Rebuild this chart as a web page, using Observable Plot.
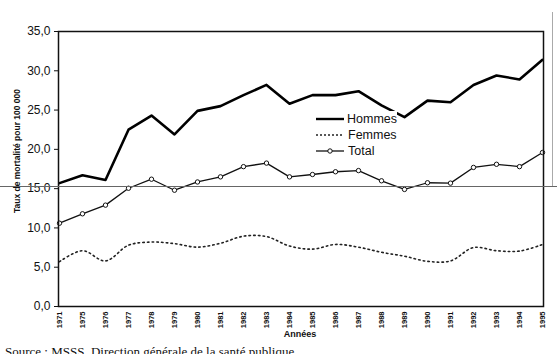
<!DOCTYPE html>
<html>
<head>
<meta charset="utf-8">
<script src="https://cdn.jsdelivr.net/npm/d3@7"></script>
<script src="https://cdn.jsdelivr.net/npm/@observablehq/plot@0.6"></script>
<style>
  html, body { margin: 0; padding: 0; background: white; }
  #wrap { position: relative; width: 557px; height: 354px; overflow: hidden; background: white; }
  #wrap svg { display: block; }
  g[aria-label="x-axis tick label"] text { font-weight: bold; }
  #legend { position: absolute; left: 314px; top: 111px; width: 83px; height: 48px; background: white;
    font-family: Arial, "Liberation Sans", sans-serif; font-size: 12.5px; color: #111; }
  #legend .row { height: 16px; display: flex; align-items: center; }
  #legend svg { margin-right: 2px; }
  .title { position: absolute; font-family: Arial, "Liberation Sans", sans-serif; font-weight: bold;
    color: #111; white-space: nowrap; line-height: 1; }
  #ytitle { left: 17px; top: 151px; font-size: 8.5px; transform: translate(-50%, -50%) rotate(-90deg); }
  #xtitle { left: 300px; top: 334px; font-size: 9px; transform: translate(-50%, -50%); }
  #source { position: absolute; left: 5px; top: 345px; font-family: "Liberation Serif", "Times New Roman", serif;
    font-size: 13px; line-height: 14px; color: #111; white-space: nowrap; }
  .hline { position: absolute; left: 0; top: 186px; width: 557px; height: 1px; background: #666; }
  .vline { position: absolute; left: 552px; top: 12px; width: 1px; height: 174px; background: #aaa; }
</style>
</head>
<body>
<div id="wrap"></div>
<script>
const years = ["1971","1975","1976","1977","1978","1979","1980","1981","1982","1983","1984",
               "1985","1986","1987","1988","1989","1990","1991","1992","1993","1994","1995"];
const hommes = [15.7,16.7,16.1,22.5,24.3,21.9,24.9,25.5,26.9,28.2,25.8,
                26.9,26.9,27.4,25.6,24.1,26.2,26.0,28.2,29.4,28.9,31.4];
const femmes = [5.7,7.1,5.8,7.8,8.2,8.0,7.55,8.05,8.95,8.9,7.7,
                7.3,7.9,7.55,6.9,6.4,5.75,5.8,7.5,7.1,7.05,7.9];
const total  = [10.6,11.8,12.9,15.05,16.2,14.8,15.85,16.5,17.8,18.25,16.5,
                16.8,17.15,17.3,16.0,14.9,15.75,15.7,17.7,18.1,17.8,19.6];
const yTicks = [0,5,10,15,20,25,30,35];
const series = ["Hommes","Femmes","Total"];
const yTitle = "Taux de mortalité pour 100 000";
const xTitle = "Années";
const source = "Source : MSSS, Direction générale de la santé publique";

const rows = (vals) => years.map((y, i) => ({year: y, v: vals[i]}));
const hData = rows(hommes), fData = rows(femmes), tData = rows(total);
const fmt = d => d.toFixed(1).replace(".", ",");

const chart = Plot.plot({
  width: 557,
  height: 342,
  marginTop: 31,
  marginLeft: 58,
  marginRight: 14,
  marginBottom: 36,
  style: {fontFamily: "Arial, 'Liberation Sans', sans-serif", background: "white", color: "#111"},
  x: {type: "point", domain: years, padding: 0},
  y: {domain: [0, 35]},
  marks: [
    Plot.axisY({ticks: yTicks, tickFormat: fmt, tickSize: 4, tickPadding: 4, fontSize: 12, label: null}),
    Plot.axisX({tickRotate: -90, tickSize: 0, tickPadding: 5, fontSize: 7.5, label: null}),
    Plot.line(fData, {x: "year", y: "v", curve: "catmull-rom", stroke: "#222", strokeWidth: 1.6, strokeDasharray: "1.5,3.2"}),
    Plot.line(tData, {x: "year", y: "v", stroke: "#111", strokeWidth: 1.3}),
    Plot.dot(tData, {x: "year", y: "v", r: 2.2, fill: "white", stroke: "#111", strokeWidth: 1}),
    Plot.line(hData, {x: "year", y: "v", stroke: "#000", strokeWidth: 2.6}),
    Plot.frame({stroke: "#111", strokeWidth: 1.5})
  ]
});

const wrap = document.getElementById("wrap");
wrap.appendChild(chart);

// axis titles
const yt = document.createElement("div");
yt.id = "ytitle"; yt.className = "title"; yt.textContent = yTitle;
wrap.appendChild(yt);
const xt = document.createElement("div");
xt.id = "xtitle"; xt.className = "title"; xt.textContent = xTitle;
wrap.appendChild(xt);

// legend
const legend = document.createElement("div");
legend.id = "legend";
const samples = {
  Hommes: '<line x1="2" y1="5" x2="30" y2="5" stroke="#000" stroke-width="2.4"/>',
  Femmes: '<line x1="2" y1="5" x2="30" y2="5" stroke="#222" stroke-width="1.3" stroke-dasharray="2,2"/>',
  Total: '<line x1="2" y1="5" x2="30" y2="5" stroke="#111" stroke-width="1.3"/><circle cx="16" cy="5" r="2.2" fill="white" stroke="#111" stroke-width="1"/>'
};
series.forEach(s => {
  const r = document.createElement("div");
  r.className = "row";
  r.innerHTML = `<svg width="32" height="10">${samples[s]}</svg><span>${s}</span>`;
  legend.appendChild(r);
});
wrap.appendChild(legend);

// scan artifacts
const h = document.createElement("div"); h.className = "hline"; wrap.appendChild(h);
const v = document.createElement("div"); v.className = "vline"; wrap.appendChild(v);

const src = document.createElement("div");
src.id = "source";
src.textContent = source;
wrap.appendChild(src);
</script>
</body>
</html>
